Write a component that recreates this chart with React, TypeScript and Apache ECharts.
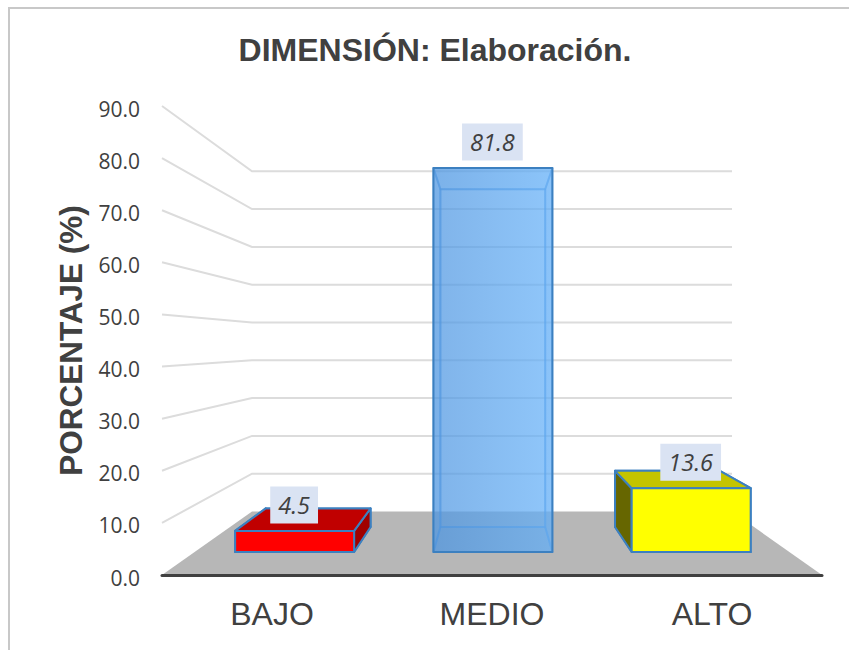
import React, { useEffect, useRef } from "react";
import * as echarts from "echarts";

const categories = ["BAJO", "MEDIO", "ALTO"];
const values = [4.5, 81.8, 13.6];
const tickValues = [10, 20, 30, 40, 50, 60, 70, 80, 90];
const titleText = "DIMENSIÓN: Elaboración.";
const yAxisName = "PORCENTAJE (%)";

const BACK_DROP = 63.5;
const BACK_V = 1 - 3.78 / 5.211;
const BACK_H = 90 / 330;
const BAR_FRONT = 0.362;
const BAR_BACK = 0.756;
const BAR_HALF = 0.3;
const BAR_NUDGE = 1;
const EDGE = "#3c80c0";
const INK = "#404040";

const faces = [
  { front: "#ff0000", top: "#c00000", side: "#a00000", back: "#a00000", edge: EDGE },
  {
    front: new echarts.graphic.LinearGradient(0, 0, 1, 0, [
      { offset: 0, color: "rgba(78,150,225,0.72)" },
      { offset: 1, color: "rgba(100,176,248,0.72)" },
    ]),
    top: "rgba(80,160,240,0.08)",
    side: "rgba(60,130,210,0.08)",
    back: "rgba(0,0,0,0)",
    edge: "rgba(70,140,215,0.4)",
  },
  { front: "#ffff00", top: "#c4c400", side: "#666600", back: "#666600", edge: EDGE },
];

function frame(api: any) {
  const band = api.size([1, 0])[0];
  const left = api.coord([0, 0])[0] - band / 2;
  const baseY = api.coord([0, 0])[1];
  return { band, left, right: left + band * 3, cx: left + band * 1.5, baseY };
}

function project(api: any, f: any, frontX: number, value: number, t: number) {
  const rise = f.baseY - api.coord([0, value])[1];
  return [
    f.cx + (frontX - f.cx) * (1 - t * BACK_H),
    f.baseY - t * BACK_DROP - rise * (1 - t * BACK_V),
  ];
}

function renderFloor(_: any, api: any) {
  const f = frame(api);
  return {
    type: "polygon",
    shape: {
      points: [
        project(api, f, f.left, 0, 0),
        project(api, f, f.left, 0, 1),
        project(api, f, f.right, 0, 1),
        project(api, f, f.right, 0, 0),
      ],
    },
    style: { fill: "#b7b7b7" },
  };
}

function renderWall(_: any, api: any) {
  const f = frame(api);
  const v = api.value(1);
  return {
    type: "polyline",
    shape: {
      points: [
        project(api, f, f.left, v, 0),
        project(api, f, f.left, v, 1),
        project(api, f, f.right, v, 1),
      ],
    },
    style: { fill: "none", stroke: "#dcdcdc", lineWidth: 2 },
  };
}

function renderBar(params: any, api: any) {
  const f = frame(api);
  const i = api.value(0);
  const v = api.value(1);
  const c = api.coord([i, 0])[0] + BAR_NUDGE;
  const half = f.band * BAR_HALF;
  const l = c - half;
  const r = c + half;
  const face = faces[params.dataIndex];
  const p = (x: number, val: number, t: number) => project(api, f, x, val, t);
  const poly = (points: number[][], fill: any, stroke: string, lineWidth = 2) => ({
    type: "polygon",
    shape: { points },
    style: { fill, stroke, lineWidth, lineJoin: "round" },
  });
  const ft = BAR_FRONT;
  const bk = BAR_BACK;
  const labelAnchor = p(c, v, ft);
  return {
    type: "group",
    children: [
      poly([p(l, 0, bk), p(l, v, bk), p(r, v, bk), p(r, 0, bk)], face.back, face.edge),
      poly([p(l, 0, ft), p(l, 0, bk), p(r, 0, bk), p(r, 0, ft)], face.side, face.edge),
      poly([p(l, 0, ft), p(l, v, ft), p(l, v, bk), p(l, 0, bk)], face.side, face.edge),
      poly([p(r, 0, ft), p(r, v, ft), p(r, v, bk), p(r, 0, bk)], face.side, face.edge),
      poly([p(l, v, ft), p(l, v, bk), p(r, v, bk), p(r, v, ft)], face.top, face.edge),
      poly([p(l, 0, ft), p(l, v, ft), p(r, v, ft), p(r, 0, ft)], face.front, EDGE),
      {
        type: "text",
        z2: 50,
        style: {
          text: v.toFixed(1),
          x: labelAnchor[0] - 0.5,
          y: labelAnchor[1] - 26,
          align: "center",
          verticalAlign: "middle",
          fill: INK,
          font: 'italic 23.5px "Open Sans"',
          backgroundColor: "#dae3f3",
          padding: [7, 8, 7, 8],
        },
      },
    ],
  };
}

export default function App() {
  const ref = useRef<HTMLDivElement>(null);
  useEffect(() => {
    document.body.style.margin = "0";
    const chart = echarts.init(ref.current!, null, { renderer: "svg" });
    chart.setOption({
      animation: false,
      backgroundColor: "#ffffff",
      title: {
        text: titleText,
        left: 430,
        top: 29,
        textAlign: "center",
        textStyle: { fontFamily: "Liberation Sans", fontSize: 32, fontWeight: "bold", color: INK },
      },
      graphic: [
        {
          type: "polyline",
          shape: { points: [[849, 8], [9, 8], [9, 650]] },
          style: { fill: "none", stroke: "#c8c8c8", lineWidth: 2 },
        },
      ],
      grid: { left: 162, right: 27, top: 106, bottom: 75 },
      xAxis: {
        type: "category",
        data: categories,
        z: 10,
        axisTick: { show: false },
        axisLine: { lineStyle: { color: INK, width: 3, cap: "round" } },
        axisLabel: { fontFamily: "Liberation Sans", fontSize: 32, color: INK, margin: 23 },
      },
      yAxis: {
        type: "value",
        min: 0,
        max: 90,
        interval: 10,
        name: yAxisName,
        nameLocation: "middle",
        nameGap: 75,
        nameTextStyle: { fontFamily: "Liberation Sans", fontSize: 31.5, fontWeight: "bold", color: INK },
        axisLine: { show: false },
        axisTick: { show: false },
        splitLine: { show: false },
        axisLabel: {
          fontFamily: "Open Sans",
          fontSize: 21,
          color: INK,
          margin: 22,
          verticalAlign: "top",
          lineHeight: 5,
          formatter: (v: number) => v.toFixed(1),
        },
      },
      series: [
        {
          type: "custom",
          name: "floor",
          silent: true,
          z: 1,
          renderItem: renderFloor,
          encode: { x: 0, y: 1 },
          data: [[0, 0]],
        },
        {
          type: "custom",
          name: "wall",
          silent: true,
          z: 2,
          renderItem: renderWall,
          encode: { x: 0, y: 1 },
          data: tickValues.map((t) => [0, t]),
        },
        {
          type: "custom",
          name: "PORCENTAJE",
          silent: true,
          z: 3,
          renderItem: renderBar,
          encode: { x: 0, y: 1 },
          data: values.map((v, i) => [i, v]),
        },
      ],
    });
    return () => chart.dispose();
  }, []);
  return <div ref={ref} style={{ width: 849, height: 650 }} />;
}
